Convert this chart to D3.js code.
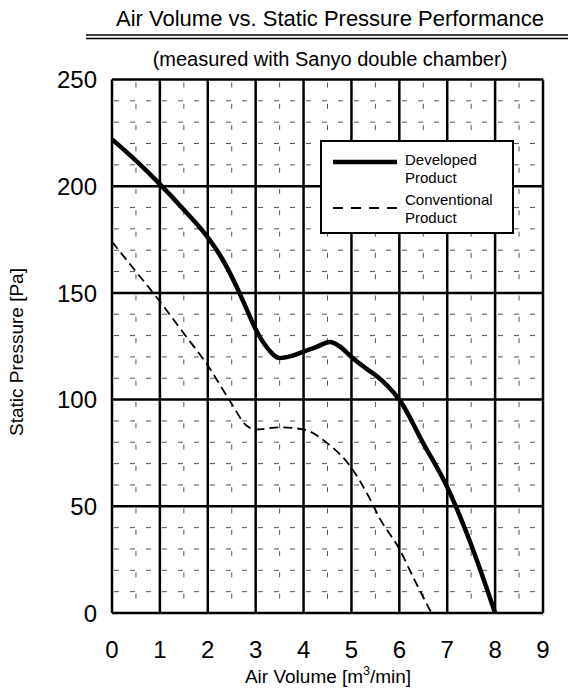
<!DOCTYPE html>
<meta charset="utf-8">
<style>
body { margin: 0; background: #fff; }
text { font-family: "Liberation Sans", Arial, sans-serif; fill: #000; }
.minor { stroke: #555; stroke-width: 1; fill: none; }
.major { stroke: #000; stroke-width: 2.5; fill: none; }
</style>
<body>
<script src="https://d3js.org/d3.v7.min.js"></script>
<script>

// chart data
var xTicks = [0, 1, 2, 3, 4, 5, 6, 7, 8, 9];
var yTicks = [0, 50, 100, 150, 200, 250];

var developedX = [0, 0.5, 1, 1.5, 2, 2.3, 2.6, 2.8, 3, 3.25, 3.5, 3.75, 4, 4.25, 4.55, 4.75, 5, 5.25, 5.5, 5.75, 6, 6.5, 7, 7.5, 8.0];
var developedY = [222, 212, 201, 189, 176, 166, 153, 143, 133, 124, 119.5, 120.5, 122.5, 124.5, 127, 125, 120, 115.5, 111.5, 106.5, 100, 79.5, 59, 32, 0];

var conventionalX = [0, 0.5, 1, 1.5, 2, 2.5, 2.8, 3, 3.5, 4, 4.5, 5, 5.35, 5.6, 6, 6.35, 6.67];
var conventionalY = [174, 160, 146, 131, 116, 98, 88, 86, 87, 86, 79.5, 68, 55, 44, 30, 14, 0];

var legendLabels = [["Developed", "Product"], ["Conventional", "Product"]];

// dimensions
var W = 568, H = 693;
var margin = {top: 79.5, left: 112, right: 25, bottom: 80};
var width = W - margin.left - margin.right,
    height = H - margin.top - margin.bottom;

var svg = d3.select("body").append("svg")
    .attr("width", W)
    .attr("height", H);

// title block
svg.append("text")
    .attr("x", 330).attr("y", 26)
    .attr("text-anchor", "middle")
    .style("font-size", "22px")
    .text("Air Volume vs. Static Pressure Performance");

svg.append("line").attr("x1", 86).attr("x2", W).attr("y1", 35).attr("y2", 35)
    .attr("stroke", "#000").attr("stroke-width", 1.5);
svg.append("line").attr("x1", 86).attr("x2", W).attr("y1", 38.5).attr("y2", 38.5)
    .attr("stroke", "#000").attr("stroke-width", 1.5);

svg.append("text")
    .attr("x", 330).attr("y", 66)
    .attr("text-anchor", "middle")
    .style("font-size", "20px")
    .text("(measured with Sanyo double chamber)");

var g = svg.append("g")
    .attr("transform", "translate(" + margin.left + "," + margin.top + ")");

var x = d3.scaleLinear().domain([0, 9]).range([0, width]);
var y = d3.scaleLinear().domain([0, 250]).range([height, 0]);

// minor gridlines (dashed)
var minorY = d3.range(10, 250, 10).filter(function(d) { return d % 50 !== 0; });
var minorX = d3.range(0.5, 9, 1);

g.selectAll(".minor-h")
    .data(minorY)
  .enter().append("line")
    .attr("class", "minor")
    .attr("x1", 0).attr("x2", width)
    .attr("y1", function(d) { return y(d); })
    .attr("y2", function(d) { return y(d); })
    .attr("stroke-dasharray", "5,11")
    .attr("stroke-dashoffset", -2);

g.selectAll(".minor-v")
    .data(minorX)
  .enter().append("line")
    .attr("class", "minor")
    .attr("x1", function(d) { return x(d); })
    .attr("x2", function(d) { return x(d); })
    .attr("y1", 0).attr("y2", height)
    .attr("stroke-dasharray", "5,16.3")
    .attr("stroke-dashoffset", -3);

// major gridlines
g.selectAll(".major-h")
    .data(yTicks)
  .enter().append("line")
    .attr("class", "major")
    .attr("x1", 0).attr("x2", width)
    .attr("y1", function(d) { return y(d); })
    .attr("y2", function(d) { return y(d); });

g.selectAll(".major-v")
    .data(xTicks)
  .enter().append("line")
    .attr("class", "major")
    .attr("x1", function(d) { return x(d); })
    .attr("x2", function(d) { return x(d); })
    .attr("y1", 0).attr("y2", height);

// curves
var line = d3.line()
    .x(function(d) { return x(d[0]); })
    .y(function(d) { return y(d[1]); })
    .curve(d3.curveMonotoneX);

g.append("path")
    .datum(d3.zip(conventionalX, conventionalY))
    .attr("fill", "none")
    .attr("stroke", "#000")
    .attr("stroke-width", 1.8)
    .attr("stroke-dasharray", "9,5")
    .attr("d", line);

g.append("path")
    .datum(d3.zip(developedX, developedY))
    .attr("fill", "none")
    .attr("stroke", "#000")
    .attr("stroke-width", 4.5)
    .attr("d", line);

// axes tick labels
g.selectAll(".xlab")
    .data(xTicks)
  .enter().append("text")
    .attr("x", function(d) { return x(d); })
    .attr("y", height + 45)
    .attr("text-anchor", "middle")
    .style("font-size", "24px")
    .text(function(d) { return d; });

g.selectAll(".ylab")
    .data(yTicks)
  .enter().append("text")
    .attr("x", -15)
    .attr("y", function(d) { return y(d); })
    .attr("dy", "0.36em")
    .attr("text-anchor", "end")
    .style("font-size", "24px")
    .text(function(d) { return d; });

// axis titles
var xt = svg.append("text")
    .attr("x", 328).attr("y", 683)
    .attr("text-anchor", "middle")
    .style("font-size", "19px");
xt.append("tspan").text("Air Volume [m");
xt.append("tspan").attr("dy", -8).style("font-size", "12px").text("3");
xt.append("tspan").attr("dy", 8).text("/min]");

svg.append("text")
    .attr("transform", "translate(23,352) rotate(-90)")
    .attr("text-anchor", "middle")
    .style("font-size", "19px")
    .text("Static Pressure [Pa]");

// legend
var leg = svg.append("g").attr("transform", "translate(321,141)");
leg.append("rect")
    .attr("width", 192).attr("height", 92)
    .attr("fill", "#fff").attr("stroke", "#000").attr("stroke-width", 2);

leg.append("line")
    .attr("x1", 12).attr("x2", 76).attr("y1", 21).attr("y2", 21)
    .attr("stroke", "#000").attr("stroke-width", 4.5);
leg.append("line")
    .attr("x1", 12).attr("x2", 76).attr("y1", 67).attr("y2", 67)
    .attr("stroke", "#000").attr("stroke-width", 1.8)
    .attr("stroke-dasharray", "10,8");

legendLabels.forEach(function(lines, i) {
  lines.forEach(function(t, j) {
    leg.append("text")
        .attr("x", 84)
        .attr("y", 24 + i * 40 + j * 18)
        .style("font-size", "15px")
        .text(t);
  });
});

</script>
</body>
